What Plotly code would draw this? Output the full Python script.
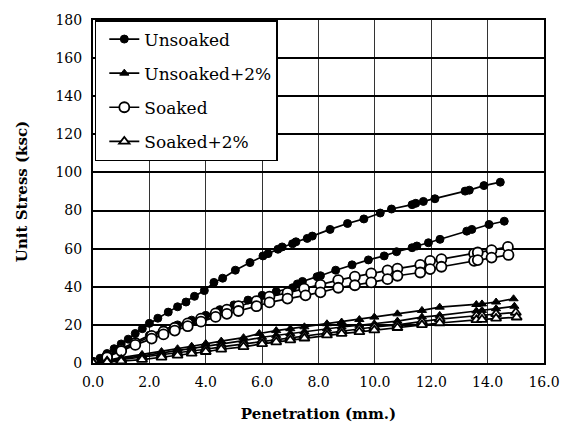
import plotly.graph_objects as go

# ---- data ----
u1_x = [0, 0.25, 0.5, 0.75, 1.0, 1.25, 1.5, 1.75, 2.0, 2.3, 2.67, 3.0, 3.3, 3.6, 3.95, 4.29, 4.6, 5.05, 5.57, 6.03, 6.21, 6.56, 6.71, 7.08, 7.2, 7.6, 7.78, 8.41, 9.03, 9.61, 10.19, 10.59, 11.32, 11.45, 11.72, 12.13, 13.2, 13.35, 13.87, 14.45]
u1_y = [0, 2.5, 5.0, 7.5, 10.0, 12.5, 15.5, 18.0, 20.8, 23.5, 26.7, 29.5, 32.0, 35.0, 38.0, 42.3, 44.5, 48.7, 52.7, 56.2, 57.4, 59.7, 60.9, 62.6, 63.6, 65.4, 66.6, 70.1, 73.2, 75.6, 78.7, 80.8, 83.1, 83.8, 84.8, 86.2, 90.2, 90.7, 93.1, 94.9]

u2_x = [0, 0.5, 1.0, 1.5, 2.0, 2.5, 3.0, 3.5, 4.0, 4.5, 5.0, 5.5, 6.0, 6.5, 7.08, 7.25, 7.43, 7.95, 8.07, 8.61, 9.19, 9.77, 10.33, 10.77, 11.32, 11.49, 11.9, 12.31, 13.26, 13.44, 14.05, 14.59]
u2_y = [0, 4.0, 7.5, 11.0, 14.5, 17.5, 20.0, 22.5, 25.0, 28.0, 30.5, 33.0, 35.5, 37.5, 39.5, 41.5, 42.8, 45.3, 45.8, 48.7, 51.5, 54.1, 56.2, 58.4, 60.5, 61.4, 63.1, 64.9, 69.2, 70.1, 72.7, 74.4]

s1_x = [0, 0.5, 1.0, 1.5, 2.08, 2.5, 2.9, 3.36, 3.83, 4.35, 4.75, 5.16, 5.8, 6.26, 6.9, 7.49, 8.07, 8.7, 9.29, 9.87, 10.45, 10.8, 11.61, 11.96, 12.36, 13.52, 13.65, 14.14, 14.72]
s1_y = [0, 3.5, 7.0, 10.5, 14.2, 16.5, 18.5, 20.8, 23.3, 26.0, 28.0, 29.8, 32.5, 34.8, 36.8, 39.0, 41.0, 43.5, 45.3, 47.0, 48.6, 49.5, 51.5, 53.6, 54.5, 57.4, 58.0, 59.2, 60.9]

s2_x = [0, 0.5, 1.0, 1.5, 2.08, 2.5, 2.9, 3.36, 3.83, 4.35, 4.75, 5.16, 5.8, 6.26, 6.9, 7.54, 8.07, 8.7, 9.29, 9.87, 10.45, 10.8, 11.61, 11.96, 12.36, 13.52, 13.65, 14.14, 14.74]
s2_y = [0, 3.0, 6.3, 9.5, 12.8, 15.0, 17.0, 19.3, 21.7, 24.2, 25.8, 27.3, 29.8, 31.8, 33.8, 35.5, 37.1, 39.5, 40.8, 42.3, 44.0, 45.8, 47.5, 49.3, 50.5, 53.6, 54.0, 55.3, 56.7]

t1_x = [0, 0.5, 1.0, 1.74, 2.43, 3.0, 3.5, 4.0, 4.55, 5.34, 5.9, 6.5, 7.0, 7.5, 8.3, 8.82, 9.45, 9.98, 10.8, 11.67, 12.3, 13.6, 13.8, 14.3, 14.92]
t1_y = [0, 1.5, 2.8, 4.5, 6.0, 7.5, 8.8, 10.2, 11.5, 13.3, 15.5, 17.0, 18.0, 19.0, 20.6, 21.5, 22.8, 24.1, 25.8, 27.6, 29.3, 30.7, 31.0, 32.0, 33.7]

t2_x = [0, 0.5, 1.0, 1.74, 2.43, 3.0, 3.5, 4.0, 4.55, 5.34, 6.0, 6.5, 7.0, 7.5, 8.3, 8.82, 9.45, 9.98, 10.8, 11.67, 12.3, 13.6, 13.8, 14.3, 14.95]
t2_y = [0, 1.2, 2.3, 3.7, 5.2, 6.5, 7.6, 8.8, 10.0, 11.7, 13.5, 14.5, 15.5, 16.5, 18.0, 18.9, 19.8, 20.6, 22.0, 24.1, 25.0, 27.3, 27.6, 28.5, 29.8]

t3_x = [0, 0.5, 1.0, 1.74, 2.43, 3.0, 3.5, 4.0, 4.55, 5.34, 6.0, 6.5, 7.0, 7.5, 8.3, 8.82, 9.45, 9.98, 10.8, 11.67, 12.3, 13.6, 13.8, 14.3, 15.0]
t3_y = [0, 0.9, 1.7, 2.8, 4.0, 5.2, 6.2, 7.2, 8.5, 10.0, 11.5, 12.5, 13.5, 14.5, 16.0, 17.0, 18.0, 18.9, 20.0, 21.8, 23.0, 24.8, 25.0, 25.8, 26.5]

t4_x = [0, 0.5, 1.0, 1.74, 2.43, 3.0, 3.5, 4.0, 4.55, 5.34, 6.0, 6.5, 7.0, 7.5, 8.3, 8.82, 9.45, 9.98, 10.8, 11.67, 12.3, 13.6, 13.8, 14.3, 15.03]
t4_y = [0, 0.5, 1.0, 1.8, 3.0, 4.0, 5.0, 5.9, 7.2, 8.5, 10.0, 11.0, 12.0, 13.0, 14.6, 15.4, 16.3, 17.2, 18.5, 20.0, 21.0, 22.6, 22.8, 23.4, 24.0]

legend_names = ["Unsoaked", "Unsoaked+2%", "Soaked", "Soaked+2%"]
x_ticks = [0, 2, 4, 6, 8, 10, 12, 14, 16]
y_ticks = [0, 20, 40, 60, 80, 100, 120, 140, 160, 180]

FONT = "DejaVu Serif"

# marker style per legend group
styles = {
    0: dict(symbol="circle", size=8, color="black", line=dict(color="black", width=1)),
    1: dict(symbol="triangle-up", size=8, color="black", line=dict(color="black", width=1)),
    2: dict(symbol="circle", size=10, color="white", line=dict(color="black", width=1.8)),
    3: dict(symbol="triangle-up", size=9, color="white", line=dict(color="black", width=1.8)),
}

series = [
    (0, u1_x, u1_y, True), (0, u2_x, u2_y, False),
    (1, t1_x, t1_y, True), (1, t2_x, t2_y, False),
    (2, s1_x, s1_y, True), (2, s2_x, s2_y, False),
    (3, t3_x, t3_y, True), (3, t4_x, t4_y, False),
]

fig = go.Figure()
for g, xs, ys, show in series:
    st = styles[g]
    fig.add_trace(go.Scatter(
        x=xs, y=ys, mode="lines+markers",
        name=legend_names[g], legendgroup=legend_names[g], showlegend=show,
        line=dict(color="black", width=1.7),
        marker=dict(symbol=st["symbol"], size=st["size"], color=st["color"], line=st["line"]),
    ))

fig.update_layout(
    width=572, height=434,
    margin=dict(l=93, r=19, t=17, b=71),
    paper_bgcolor="white", plot_bgcolor="white",
    font=dict(family=FONT, size=14, color="black"),
    showlegend=True,
    legend=dict(
        x=0.004, y=1.0, xanchor="left", yanchor="top",
        bgcolor="white", bordercolor="black", borderwidth=1.5,
        font=dict(family=FONT, size=17, color="black"),
        tracegroupgap=9,
        traceorder="grouped",
        indentation=8,
    ),
)
fig.update_xaxes(
    range=[0, 16], tickvals=x_ticks, tickformat=".1f",
    showgrid=True, gridcolor="#333333", gridwidth=1,
    showline=True, linecolor="black", linewidth=2, mirror=True,
    ticks="outside", ticklen=5, tickcolor="rgba(0,0,0,0)", zeroline=False,
    title=dict(text="<b>Penetration (mm.)</b>", font=dict(family=FONT, size=15), standoff=20),
    tickfont=dict(family=FONT, size=14),
)
fig.update_yaxes(
    range=[0, 180], tickvals=y_ticks,
    showgrid=True, gridcolor="black", gridwidth=1.5,
    showline=True, linecolor="black", linewidth=2, mirror=True,
    ticks="outside", ticklen=6, tickcolor="rgba(0,0,0,0)", zeroline=False,
    title=dict(text="<b>Unit Stress (ksc)</b>", font=dict(family=FONT, size=15), standoff=24),
    tickfont=dict(family=FONT, size=14),
)

fig.write_html("out.html")
